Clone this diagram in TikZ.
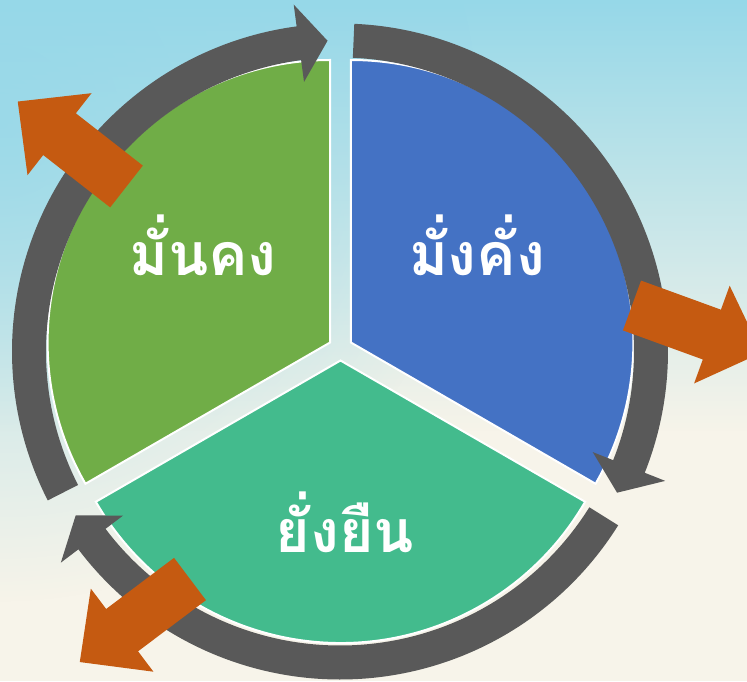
\documentclass[tikz,border=0pt]{standalone}
\usepackage{fontspec}
\newfontfamily\thaifont[Script=Thai]{Loma}
\usetikzlibrary{fadings,calc}
\tikzfading[name=softcircle, inner color=transparent!0, outer color=transparent!100]
\definecolor{bgcream}{RGB}{247,244,234}
\definecolor{bgblue}{RGB}{150,216,232}
\definecolor{ringgray}{RGB}{89,89,89}
\definecolor{secgreen}{RGB}{112,173,71}
\definecolor{secblue}{RGB}{68,114,196}
\definecolor{secteal}{RGB}{67,187,141}
\definecolor{arrorange}{RGB}{197,90,17}
\tikzset{
  sector/.style={draw=white, line width=2pt, line join=miter},
  ring/.style={fill=ringgray},
  outarrow/.style={fill=arrorange},
  label/.style={text=white, font=\thaifont\bfseries\fontsize{59}{61}\selectfont, anchor=base, inner sep=0pt}
}
% ring arrow: #1 tail angle, #2 tip angle
\newcommand{\ringarrow}[2]{%
  \pgfmathsetmacro{\hb}{#2+5.3}%
  \fill[ring, shift={(340,329.5)}] (#1:294pt) -- (#1:328pt)
    arc[start angle=#1, end angle=\hb, radius=328pt]
    -- (\hb:350pt) -- (#2:311pt) -- (\hb:272pt) -- (\hb:294pt)
    arc[start angle=\hb, end angle=#1, radius=294pt] -- cycle;}
% block arrow: #1 tail point, #2 direction
\newcommand{\blockarrow}[2]{%
  \fill[outarrow, shift={#1}, rotate=#2] (0,-26.5) -- (85,-26.5) -- (85,-52)
    -- (138,0) -- (85,52) -- (85,26.5) -- (0,26.5) -- cycle;}
\begin{document}
\begin{tikzpicture}[x=1pt,y=1pt]
\useasboundingbox (0,0) rectangle (747,681);
\clip (0,0) rectangle (747,681);
% background
\fill[bgcream] (0,0) rectangle (747,681);
\fill[bgblue, path fading=south] (0,250) rectangle (747,681);
\fill[bgblue, opacity=0.8, path fading=softcircle] (0,560) circle[radius=480pt];
\coordinate (C) at (340.5,332.5);
% sectors
\fill[secgreen, sector] ($(C)+(150:12pt)$) -- ++(90:282.5pt)
  arc[start angle=90, end angle=210, radius=282.5pt] -- cycle;
\fill[secblue, sector] ($(C)+(30:12pt)$) -- ++(90:282.5pt)
  arc[start angle=90, end angle=-30, radius=282.5pt] -- cycle;
\fill[secteal, sector] ($(C)+(270:12pt)$) -- ++(210:282.5pt)
  arc[start angle=210, end angle=330, radius=282.5pt] -- cycle;
% ring arrows
\ringarrow{207}{92.3}
\ringarrow{87.5}{-27}
\ringarrow{-32}{-148.2}
% outward arrows
\blockarrow{(126.5,494.5)}{142}
\blockarrow{(632,375.5)}{-20}
\blockarrow{(190,102)}{217}
% labels
\node[label] (l1) at (203,405) {มั่นคง};
\node[label] (l2) at (477,405) {มั่งคั่ง};
\node[label] (l3) at (345,129) {ยั่งยืน};
\end{tikzpicture}
\end{document}
